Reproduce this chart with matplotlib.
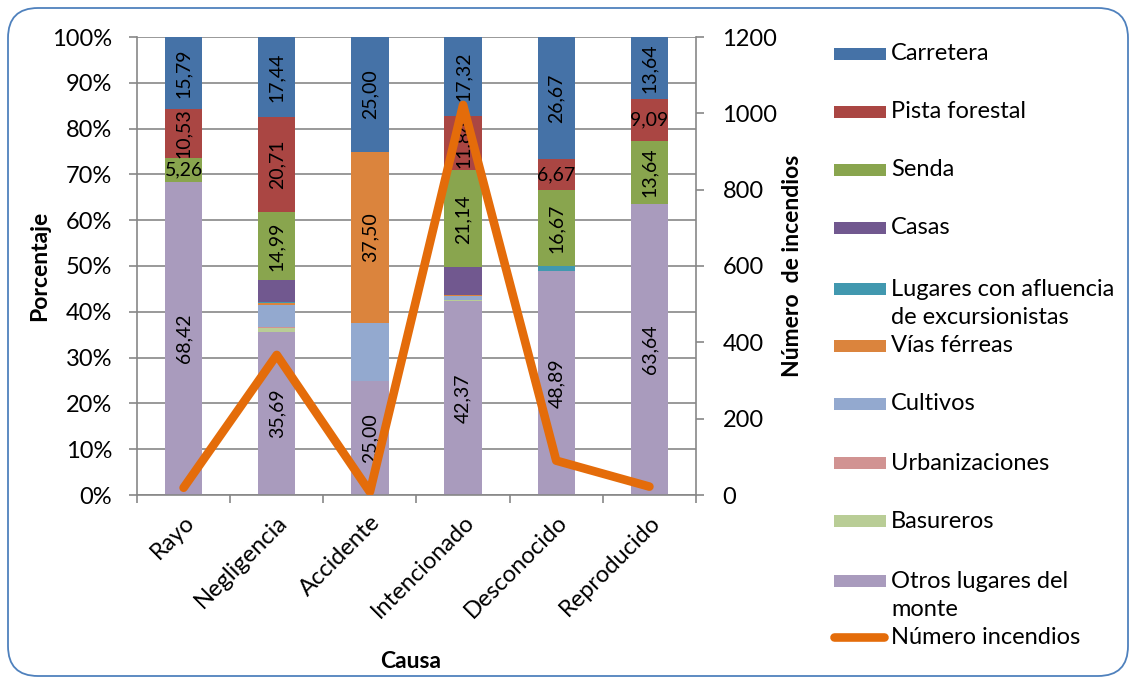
import numpy as np
import matplotlib
matplotlib.use("Agg")
import matplotlib.pyplot as plt
from matplotlib.patches import FancyBboxPatch, Rectangle
from matplotlib.lines import Line2D

plt.rcParams['font.family'] = ['Lato', 'DejaVu Sans']

# Causes of the fires
causas = ['Rayo', 'Negligencia', 'Accidente', 'Intencionado', 'Desconocido', 'Reproducido']

# Share (%) of each place of origin per cause
carretera = [15.79, 17.44, 25.00, 17.32, 26.67, 13.64]
pista_forestal = [10.53, 20.71, 0.00, 11.84, 6.67, 9.09]
senda = [5.26, 14.99, 0.00, 21.14, 16.67, 13.64]
casas = [0.00, 4.63, 0.00, 5.97, 0.00, 0.00]
lugares_excursionistas = [0.00, 0.27, 0.00, 0.10, 1.11, 0.00]
vias_ferreas = [0.00, 0.54, 37.50, 0.10, 0.00, 0.00]
cultivos = [0.00, 4.63, 12.50, 0.88, 0.00, 0.00]
urbanizaciones = [0.00, 0.27, 0.00, 0.10, 0.00, 0.00]
basureros = [0.00, 0.82, 0.00, 0.20, 0.00, 0.00]
otros_monte = [68.42, 35.69, 25.00, 42.37, 48.89, 63.64]

# Number of fires per cause (secondary axis)
num_incendios = [19, 367, 8, 1022, 90, 22]

# bottom -> top stacking order
series = [
    ('Otros lugares del\nmonte', otros_monte, '#A99BBD'),
    ('Basureros', basureros, '#B9CD96'),
    ('Urbanizaciones', urbanizaciones, '#D19392'),
    ('Cultivos', cultivos, '#93A9CF'),
    ('Vías férreas', vias_ferreas, '#DB843D'),
    ('Lugares con afluencia\nde excursionistas', lugares_excursionistas, '#4198AF'),
    ('Casas', casas, '#71588F'),
    ('Senda', senda, '#89A54E'),
    ('Pista forestal', pista_forestal, '#AA4643'),
    ('Carretera', carretera, '#4572A7'),
]
labelled = {'Carretera', 'Pista forestal', 'Senda', 'Vías férreas', 'Otros lugares del\nmonte'}
line_color = '#E46C0A'
grid_color = '#878787'

fig = plt.figure(figsize=(11.35, 6.8), dpi=100)
ax = fig.add_axes([137 / 1135, 185 / 680, 559 / 1135, 458 / 680])

x = np.arange(len(causas))
bottom = np.zeros(len(causas))
for name, vals, color in series:
    vals = np.array(vals)
    ax.bar(x, vals, 0.4, bottom=bottom, color=color, zorder=2)
    if name in labelled:
        for xi, v, b in zip(x, vals, bottom):
            if v < 5:
                continue
            txt = f"{v:.2f}".replace('.', ',')
            rot = 90 if v >= 10 else 0
            ax.text(xi, b + v / 2, txt, rotation=rot, ha='center', va='center',
                    fontsize=14, color='black', zorder=3)
    bottom += vals

ax.set_xlim(-0.5, len(causas) - 0.5)
ax.set_ylim(0, 100)
ax.set_yticks(np.arange(0, 101, 10))
ax.set_yticklabels([f"{v}%" for v in range(0, 101, 10)], fontsize=17)
ax.yaxis.grid(True, color=grid_color, lw=1.2, zorder=0)
ax.set_axisbelow(True)
ax.tick_params(axis='y', length=6, width=1.2, color=grid_color, pad=12)

ax.set_xticks(x)
ax.set_xticklabels(causas, fontsize=17, rotation=45, ha='right', rotation_mode='anchor')
ax.tick_params(axis='x', length=0, pad=12)
ax.set_xticks(np.arange(-0.5, len(causas), 1), minor=True)
ax.tick_params(axis='x', which='minor', length=6, width=1.2, color=grid_color)

for side in ['top', 'right']:
    ax.spines[side].set_visible(False)
for side in ['left', 'bottom']:
    ax.spines[side].set_color(grid_color)
    ax.spines[side].set_linewidth(1.2)

ax.set_ylabel('Porcentaje', fontsize=16.5, fontweight='bold')
ax.yaxis.set_label_coords(-0.156, 0.5)
ax.set_xlabel('Causa', fontsize=16.5, fontweight='bold')
ax.xaxis.set_label_coords(0.49, -0.34)

# secondary axis with the fire count
ax2 = ax.twinx()
ax2.plot(x, num_incendios, color=line_color, lw=6.2, solid_capstyle='round',
         solid_joinstyle='round', zorder=5)
ax2.set_ylim(0, 1200)
ax2.set_yticks(np.arange(0, 1201, 200))
ax2.tick_params(axis='y', labelsize=17, length=6, width=1.2, color=grid_color, pad=13)
for side in ['top', 'left', 'bottom']:
    ax2.spines[side].set_visible(False)
ax2.spines['right'].set_color(grid_color)
ax2.spines['right'].set_linewidth(1.2)
ax2.set_ylabel('Número  de incendios', fontsize=16.5, fontweight='bold')
ax2.yaxis.set_label_coords(1.153, 0.5)

# legend, top to bottom
leg_y = [54, 112, 170, 228, 289, 346, 404, 463, 521, 581]
for (name, vals, color), yp in zip(series[::-1], leg_y):
    fig.patches.append(Rectangle((834 / 1135, 1 - (yp + 6) / 680), 52 / 1135, 12 / 680,
                                 transform=fig.transFigure, facecolor=color, edgecolor='none'))
    for i, line in enumerate(name.split('\n')):
        fig.text(891 / 1135, 1 - (yp + i * 29) / 680, line, fontsize=17, va='center', ha='left')
yl = 637
fig.lines.append(Line2D([834 / 1135, 884 / 1135], [1 - yl / 680, 1 - yl / 680],
                        transform=fig.transFigure, color=line_color, lw=6.2,
                        solid_capstyle='round'))
fig.text(891 / 1135, 1 - yl / 680, 'Número incendios', fontsize=17, va='center', ha='left')

# rounded frame around the chart
frame = FancyBboxPatch((0.08, 0.04), 11.2, 6.68, boxstyle='round,pad=0,rounding_size=0.3',
                       transform=fig.dpi_scale_trans, fill=False, edgecolor='#4F81BD', lw=1.3)
fig.patches.append(frame)

fig.savefig('out.png', dpi=100)
